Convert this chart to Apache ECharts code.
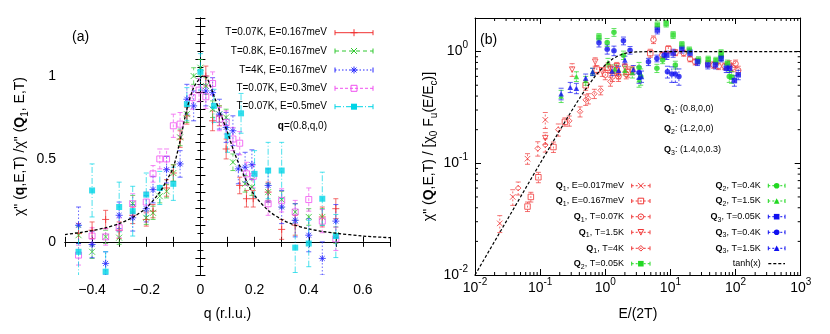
<!DOCTYPE html>
<html>
<head>
<meta charset="utf-8">
<script src="https://cdn.jsdelivr.net/npm/echarts@6/dist/echarts.min.js"></script>
<style>
html, body { margin: 0; padding: 0; background: #fff; }
#chart { width: 830px; height: 334px; }
</style>
</head>
<body>
<div id="chart"></div>
<script>
// ---- panel (a): [q, chi''/chi''(Q1), error] ----
var aRed = [[-0.45,0.05,0.06],[-0.4,0.07,0.05],[-0.35,0.135,0.055],[-0.3,0.07,0.05],[-0.25,0.16,0.05],[-0.2,0.135,0.04],[-0.175,0.185,0.04],[-0.125,0.325,0.05],[-0.1,0.415,0.05],[-0.075,0.62,0.05],[-0.05,0.76,0.05],[0.02,1.0,0.06],[0.045,0.73,0.06],[0.07,0.76,0.06],[0.095,0.56,0.06],[0.145,0.34,0.05],[0.17,0.26,0.05],[0.195,0.26,0.05],[0.25,0.3,0.06],[0.3,0.075,0.06],[0.35,0.1,0.06],[0.45,0.15,0.06],[0.5,0.2,0.06]];
var aGreen = [[-0.45,0.04,0.05],[-0.4,-0.06,0.04],[-0.35,0.03,0.04],[-0.3,0.025,0.04],[-0.25,0.23,0.05],[-0.2,0.145,0.04],[-0.175,0.175,0.04],[-0.15,0.275,0.04],[-0.125,0.305,0.04],[-0.1,0.415,0.05],[-0.075,0.63,0.05],[-0.05,0.77,0.05],[-0.025,1.0,0.05],[0,1.05,0.05],[0.02,0.94,0.05],[0.045,0.8,0.05],[0.07,0.77,0.05],[0.095,0.75,0.05],[0.12,0.48,0.05],[0.165,0.35,0.05],[0.19,0.33,0.05],[0.25,0.3,0.05],[0.3,0.255,0.05],[0.35,0.18,0.05],[0.4,0.15,0.05],[0.45,0.15,0.05],[0.5,0.04,0.05]];
var aBlue = [[-0.45,0.1,0.11],[-0.4,-0.016,0.08],[-0.35,-0.13,0.07],[-0.3,0.16,0.08],[-0.25,0.145,0.08],[-0.2,0.2,0.08],[-0.175,0.315,0.08],[-0.125,0.435,0.08],[-0.075,0.47,0.08],[-0.05,0.86,0.09],[-0.025,0.82,0.09],[0.02,0.91,0.09],[0.045,0.9,0.09],[0.07,0.77,0.09],[0.095,0.69,0.09],[0.12,0.67,0.09],[0.14,0.44,0.09],[0.165,0.45,0.09],[0.19,0.465,0.09],[0.25,0.34,0.1],[0.3,0.21,0.1],[0.35,0.13,0.1],[0.4,0.04,0.1],[0.45,-0.1,0.1],[0.5,0.125,0.1]];
var aMagenta = [[-0.45,-0.08,0.06],[-0.4,0.035,0.05],[-0.35,0.03,0.05],[-0.3,0.085,0.06],[-0.25,0.23,0.06],[-0.2,0.24,0.06],[-0.175,0.41,0.05],[-0.15,0.5,0.06],[-0.125,0.5,0.06],[-0.1,0.7,0.07],[-0.075,0.71,0.07],[-0.03,0.87,0.07],[-0.005,0.915,0.07],[0.02,0.875,0.07],[0.045,0.955,0.07],[0.07,0.74,0.07],[0.095,0.72,0.07],[0.12,0.62,0.07],[0.145,0.595,0.07],[0.17,0.41,0.07],[0.195,0.395,0.07],[0.25,0.23,0.07],[0.3,0.25,0.07],[0.35,0.18,0.07],[0.4,0.255,0.07],[0.45,0.125,0.07],[0.5,0.018,0.07]];
var aCyan = [[-0.45,-0.06,0.16],[-0.4,0.31,0.16],[-0.35,-0.18,0.12],[-0.3,0.21,0.15],[-0.25,0.185,0.15],[-0.2,0.285,0.13],[-0.15,0.325,0.1],[-0.1,0.35,0.1],[-0.05,0.83,0.1],[0,1.025,0.11],[0.05,0.82,0.1],[0.1,0.64,0.1],[0.15,0.775,0.12],[0.2,0.41,0.14],[0.25,0.43,0.17],[0.3,0.43,0.17],[0.35,-0.035,0.15],[0.4,-0.01,0.14],[0.45,0.26,0.16],[0.5,0.035,0.13]];
var aFit = [[-0.5,0.044],[-0.45,0.055],[-0.4,0.068],[-0.35,0.085],[-0.3,0.11],[-0.25,0.148],[-0.2,0.205],[-0.15,0.3],[-0.125,0.37],[-0.1,0.45],[-0.075,0.61],[-0.05,0.8],[-0.025,0.93],[0,0.99],[0.012,1.0],[0.025,0.985],[0.05,0.88],[0.075,0.77],[0.1,0.66],[0.125,0.54],[0.15,0.44],[0.175,0.35],[0.2,0.28],[0.25,0.19],[0.3,0.135],[0.35,0.1],[0.4,0.078],[0.45,0.063],[0.5,0.052],[0.6,0.035],[0.7,0.025]];
var aXLabels = [-0.4, -0.2, 0, 0.2, 0.4, 0.6];
var aYLabels = [0, 0.5, 1];

// ---- panel (b): [E/(2T), normalised chi'', error] ----
var q1E017 = [[0.024,0.029,0.005],[0.038,0.05,0.008],[0.064,0.11,0.012],[0.12,0.245,0.04]];
var q1E167 = [[0.064,0.041,0.004],[0.072,0.05,0.005],[0.094,0.075,0.008],[0.16,0.14,0.015],[0.24,0.235,0.02],[0.5,0.5,0.05],[0.74,0.69,0.06],[1.1,0.72,0.07],[1.5,0.68,0.07],[2.2,0.66,0.07],[4.9,0.97,0.08],[9.3,1.05,0.08]];
var q1T007 = [[1.0,0.62,0.06],[1.3,0.6,0.06],[1.6,0.6,0.06],[2.1,0.63,0.06],[2.6,0.68,0.06],[5.5,1.28,0.1],[7.5,0.93,0.06],[12,0.98,0.06],[16,0.97,0.06],[20,0.86,0.05],[24,0.81,0.05],[38,0.78,0.05],[46,0.76,0.05],[55,0.74,0.05],[68,0.74,0.05],[80,0.77,0.06],[90,0.72,0.06],[100,0.78,0.06],[110,0.68,0.06]];
var q1T15 = [[0.12,0.168,0.02],[0.31,0.69,0.09],[0.7,0.81,0.07],[0.9,0.66,0.06],[1.2,0.7,0.06],[1.5,0.74,0.06],[2.0,0.72,0.06]];
var q1T4 = [[0.046,0.06,0.008],[0.092,0.136,0.02],[0.12,0.146,0.02],[0.19,0.2,0.025],[0.28,0.24,0.025],[0.41,0.29,0.03],[0.5,0.37,0.04],[0.55,0.38,0.04],[0.68,0.42,0.04],[0.85,0.45,0.04],[1.2,0.54,0.05],[1.6,0.62,0.05]];
var q2T005 = [[0.8,1.35,0.1],[6.3,1.73,0.15],[8.6,1.78,0.12],[11,1.41,0.1],[15,1.15,0.08],[19.5,1.03,0.07],[27,0.84,0.06],[38,0.85,0.06],[50,0.83,0.06],[60,0.97,0.07],[75,0.78,0.06],[87,0.59,0.07]];
var q2T04 = [[1.07,1.21,0.1],[1.36,1.49,0.12],[1.9,0.93,0.08],[3.3,0.72,0.08],[3.5,0.6,0.1],[6.2,0.71,0.06],[7.6,0.84,0.06],[11.9,0.76,0.06],[60,0.9,0.07],[80,0.6,0.07]];
var q2T15 = [[0.21,0.4,0.05],[0.36,0.6,0.06],[0.5,0.55,0.05],[0.64,0.66,0.05],[1.1,0.8,0.07],[1.4,0.7,0.06],[2.0,0.68,0.06],[2.6,0.65,0.07],[3.3,0.56,0.08]];
var q3T005 = [[6.3,1.56,0.12],[8.8,0.93,0.08],[11,0.97,0.08],[15,1.05,0.08],[20,0.97,0.07],[26,0.81,0.06],[37.5,0.76,0.06],[49,0.76,0.06],[60,0.87,0.06],[72,0.71,0.06],[81,0.71,0.06],[96,0.55,0.06],[110,0.62,0.06]];
var q3T04 = [[0.8,1.2,0.1],[1.07,1.05,0.1],[1.36,1.02,0.1],[1.9,1.25,0.1],[2.4,1.03,0.08],[3.3,0.65,0.08],[4.6,0.81,0.06],[6.2,0.87,0.06],[8,0.93,0.06],[9,0.66,0.08],[10.5,0.63,0.1],[11.9,0.63,0.1],[13.5,0.6,0.1]];
var q3T15 = [[0.21,0.42,0.05],[0.29,0.48,0.05],[0.36,0.47,0.05],[0.5,0.58,0.05],[0.64,0.66,0.05],[1.27,0.67,0.06],[1.6,0.68,0.06],[2.0,0.84,0.07],[2.7,0.69,0.06],[3.3,0.59,0.07],[3.6,0.6,0.07]];
var tanhLine = [[0.01,0.01],[0.02,0.02],[0.05,0.05],[0.1,0.1],[0.2,0.197],[0.3,0.291],[0.4,0.38],[0.5,0.462],[0.7,0.604],[1,0.762],[1.3,0.862],[1.6,0.922],[2,0.964],[2.5,0.987],[3,0.995],[5,1],[1000,1]];

// log minor tick positions
var bMinorX = [0.02,0.03,0.04,0.05,0.06,0.07,0.08,0.09,0.2,0.3,0.4,0.5,0.6,0.7,0.8,0.9,2,3,4,5,6,7,8,9,20,30,40,50,60,70,80,90,200,300,400,500,600,700,800,900];
var bMinorY = [0.02,0.03,0.04,0.05,0.06,0.07,0.08,0.09,0.2,0.3,0.4,0.5,0.6,0.7,0.8,0.9];

var FONT = '"Liberation Sans", Arial, Helvetica, sans-serif';
var RED = '#f03838', GREEN = '#22d822', BLUE = '#1010f0';

var PLUS = 'path://M0,5L10,5M5,0L5,10';
var CROSS = 'path://M0,0L10,10M10,0L0,10';
var STAR = 'path://M0,5L10,5M5,0L5,10M1.5,1.5L8.5,8.5M8.5,1.5L1.5,8.5';

function symbolFor(kind, color) {
  var stroke = { color: 'none', borderColor: color, borderWidth: 1 };
  var fill = { color: color };
  switch (kind) {
    case 'plus': return { symbol: PLUS, itemStyle: stroke };
    case 'cross': return { symbol: CROSS, itemStyle: stroke };
    case 'star': return { symbol: STAR, itemStyle: stroke };
    case 'rectOpen': return { symbol: 'rect', itemStyle: stroke };
    case 'rectFill': return { symbol: 'rect', itemStyle: fill };
    case 'circleOpen': return { symbol: 'circle', itemStyle: stroke };
    case 'circleFill': return { symbol: 'circle', itemStyle: fill };
    case 'triDownOpen': return { symbol: 'triangle', symbolRotate: 180, itemStyle: stroke };
    case 'triFill': return { symbol: 'triangle', itemStyle: fill };
    case 'diamondOpen': return { symbol: 'diamond', itemStyle: stroke };
  }
}

// glyph for the hand-placed legend samples
function glyph(kind, cx, cy, r, color) {
  var s = { stroke: color, lineWidth: 1, fill: 'none' };
  var f = { fill: color };
  function ln(x1, y1, x2, y2) { return { type: 'line', shape: { x1: x1, y1: y1, x2: x2, y2: y2 }, style: s }; }
  switch (kind) {
    case 'plus': return [ln(cx - r, cy, cx + r, cy), ln(cx, cy - r, cx, cy + r)];
    case 'cross': return [ln(cx - r, cy - r, cx + r, cy + r), ln(cx + r, cy - r, cx - r, cy + r)];
    case 'star': return [ln(cx - r, cy, cx + r, cy), ln(cx, cy - r, cx, cy + r), ln(cx - r * 0.7, cy - r * 0.7, cx + r * 0.7, cy + r * 0.7), ln(cx + r * 0.7, cy - r * 0.7, cx - r * 0.7, cy + r * 0.7)];
    case 'rectOpen': return [{ type: 'rect', shape: { x: cx - r, y: cy - r, width: 2 * r, height: 2 * r }, style: s }];
    case 'rectFill': return [{ type: 'rect', shape: { x: cx - r, y: cy - r, width: 2 * r, height: 2 * r }, style: f }];
    case 'circleOpen': return [{ type: 'circle', shape: { cx: cx, cy: cy, r: r }, style: s }];
    case 'circleFill': return [{ type: 'circle', shape: { cx: cx, cy: cy, r: r }, style: f }];
    case 'triDownOpen': return [{ type: 'polygon', shape: { points: [[cx - r, cy - r], [cx + r, cy - r], [cx, cy + r]] }, style: s }];
    case 'triFill': return [{ type: 'polygon', shape: { points: [[cx - r, cy + r], [cx + r, cy + r], [cx, cy - r]] }, style: f }];
    case 'diamondOpen': return [{ type: 'polygon', shape: { points: [[cx, cy - r], [cx + r, cy], [cx, cy + r], [cx - r, cy]] }, style: s }];
  }
  return [];
}

function errorBars(color, dash, logY) {
  return function (params, api) {
    var x = api.value(0), y = api.value(1), e = api.value(2);
    var lo = y - e, hi = y + e;
    if (logY) lo = Math.max(lo, 0.0101);
    var p0 = api.coord([x, lo]), p1 = api.coord([x, hi]);
    var st = { stroke: color, lineWidth: 1, lineDash: dash, opacity: 0.7 };
    var cap = { stroke: color, lineWidth: 1, opacity: 0.7 };
    return {
      type: 'group',
      children: [
        { type: 'line', shape: { x1: p0[0], y1: p0[1], x2: p1[0], y2: p1[1] }, style: st },
        { type: 'line', shape: { x1: p0[0] - 2.5, y1: p0[1], x2: p0[0] + 2.5, y2: p0[1] }, style: cap },
        { type: 'line', shape: { x1: p1[0] - 2.5, y1: p1[1], x2: p1[0] + 2.5, y2: p1[1] }, style: cap }
      ]
    };
  };
}

var aDefs = [
  { label: 'T=0.07K, E=0.167meV', data: aRed, color: '#f03030', dash: null, kind: 'plus', size: 7 },
  { label: 'T=0.8K, E=0.167meV', data: aGreen, color: '#30c830', dash: [4, 3], kind: 'cross', size: 6 },
  { label: 'T=4K, E=0.167meV', data: aBlue, color: '#2828ff', dash: [1.5, 2], kind: 'star', size: 7 },
  { label: 'T=0.07K, E=0.3meV', data: aMagenta, color: '#f050f0', dash: [3, 2], kind: 'rectOpen', size: 6 },
  { label: 'T=0.07K, E=0.5meV', data: aCyan, color: '#00d4e6', dash: [6, 2, 1, 2], kind: 'rectFill', size: 6 }
];

var bDefs = [
  { q: '1', rest: ', E=0.017meV', data: q1E017, color: RED, kind: 'cross', col: 0 },
  { q: '1', rest: ', E=0.167meV', data: q1E167, color: RED, kind: 'rectOpen', col: 0 },
  { q: '1', rest: ', T=0.07K', data: q1T007, color: RED, kind: 'circleOpen', col: 0 },
  { q: '1', rest: ', T=1.5K', data: q1T15, color: RED, kind: 'triDownOpen', col: 0 },
  { q: '1', rest: ', T=4K', data: q1T4, color: RED, kind: 'diamondOpen', col: 0 },
  { q: '2', rest: ', T=0.05K', data: q2T005, color: GREEN, kind: 'rectFill', col: 0 },
  { q: '2', rest: ', T=0.4K', data: q2T04, color: GREEN, kind: 'circleFill', col: 1 },
  { q: '2', rest: ', T=1.5K', data: q2T15, color: GREEN, kind: 'triFill', col: 1 },
  { q: '3', rest: ', T=0.05K', data: q3T005, color: BLUE, kind: 'rectFill', col: 1 },
  { q: '3', rest: ', T=0.4K', data: q3T04, color: BLUE, kind: 'circleFill', col: 1 },
  { q: '3', rest: ', T=1.5K', data: q3T15, color: BLUE, kind: 'triFill', col: 1 }
];

function fmtA(v) {
  if (Math.abs(v) < 1e-9) return '0';
  var s = Math.abs(v).toFixed(1).replace(/\.0$/, '');
  return (v < 0 ? '\u2212' : '') + s;
}
function fmtPow(v) {
  var e = Math.round(Math.log10(v));
  if (Math.abs(v - Math.pow(10, e)) / v > 0.01) return '';
  return '{b|10}{s|' + (e < 0 ? '-' : '') + Math.abs(e) + '}';
}

var tickStyle = { color: '#000', width: 1 };
var lineStyle = { color: '#000', width: 1 };
var powRich = {
  b: { fontSize: 14, lineHeight: 22, fontFamily: FONT, color: '#000' },
  s: { fontSize: 10, verticalAlign: 'top', fontFamily: FONT, color: '#000' }
};
var nameRich = {
  t: { fontSize: 14, lineHeight: 20, fontFamily: FONT, color: '#000' },
  b: { fontSize: 14, lineHeight: 20, fontWeight: 'bold', fontFamily: FONT, color: '#000' },
  s: { fontSize: 10, verticalAlign: 'bottom', fontFamily: FONT, color: '#000' }
};
var nameRichG = {
  t: { fontSize: 14, lineHeight: 20, fontFamily: FONT, fill: '#000' },
  b: { fontSize: 14, lineHeight: 20, fontWeight: 'bold', fontFamily: FONT, fill: '#000' },
  s: { fontSize: 10, verticalAlign: 'bottom', fontFamily: FONT, fill: '#000' }
};

var series = [];
aDefs.forEach(function (d) {
  series.push({ type: 'custom', xAxisIndex: 0, yAxisIndex: 0, data: d.data, encode: { x: 0, y: 1 },
    renderItem: errorBars(d.color, d.dash, false), clip: true, silent: true, z: 2 });
  var sy = symbolFor(d.kind, d.color);
  series.push({ type: 'scatter', xAxisIndex: 0, yAxisIndex: 0, data: d.data, encode: { x: 0, y: 1 },
    symbol: sy.symbol, symbolSize: d.size, symbolRotate: sy.symbolRotate || 0, itemStyle: sy.itemStyle, silent: true, z: 3 });
});
series.push({ type: 'line', xAxisIndex: 0, yAxisIndex: 0, data: aFit, smooth: 0.3, showSymbol: false, symbol: 'none',
  lineStyle: { color: '#000', width: 1.3, type: [3, 2] }, silent: true, z: 5 });

// panel (a) y tick labels drawn by a custom series at the left edge of the axis
series.push({ type: 'custom', xAxisIndex: 0, yAxisIndex: 0, data: aYLabels.map(function (v) { return [-0.5, v]; }),
  encode: { x: 0, y: 1 }, clip: false, silent: true, z: 10,
  renderItem: function (params, api) {
    var p = api.coord([api.value(0), api.value(1)]);
    return { type: 'text', x: p[0] - 9, y: p[1],
      style: { text: fmtA(api.value(1)), textAlign: 'right', textVerticalAlign: 'middle', fontSize: 14, fontFamily: FONT, fill: '#000' } };
  } });

bDefs.forEach(function (d) {
  series.push({ type: 'custom', xAxisIndex: 2, yAxisIndex: 2, data: d.data, encode: { x: 0, y: 1 },
    renderItem: errorBars(d.color, [2, 2], true), clip: true, silent: true, z: 2 });
  var sy = symbolFor(d.kind, d.color);
  series.push({ type: 'scatter', xAxisIndex: 2, yAxisIndex: 2, data: d.data, encode: { x: 0, y: 1 },
    symbol: sy.symbol, symbolSize: 5.5, symbolRotate: sy.symbolRotate || 0, itemStyle: sy.itemStyle, silent: true, z: 3 });
});
series.push({ type: 'line', xAxisIndex: 2, yAxisIndex: 2, data: tanhLine, showSymbol: false, symbol: 'none',
  lineStyle: { color: '#000', width: 1.2, type: [3, 2] }, silent: true, z: 5 });

// log minor ticks (bottom/top and left/right)
series.push({ type: 'custom', xAxisIndex: 2, yAxisIndex: 2, data: bMinorX.map(function (v) { return [v, 1]; }),
  encode: { x: 0, y: 1 }, clip: false, silent: true, z: 6,
  renderItem: function (params, api) {
    var v = api.value(0);
    var b = api.coord([v, 0.01]), t = api.coord([v, 2]);
    var st = { stroke: '#000', lineWidth: 1 };
    return { type: 'group', children: [
      { type: 'line', shape: { x1: b[0], y1: b[1], x2: b[0], y2: b[1] - 3 }, style: st },
      { type: 'line', shape: { x1: t[0], y1: t[1], x2: t[0], y2: t[1] + 3 }, style: st }
    ] };
  } });
series.push({ type: 'custom', xAxisIndex: 2, yAxisIndex: 2, data: bMinorY.map(function (v) { return [1, v]; }),
  encode: { x: 0, y: 1 }, clip: false, silent: true, z: 6,
  renderItem: function (params, api) {
    var v = api.value(1);
    var l = api.coord([0.01, v]), r = api.coord([1000, v]);
    var st = { stroke: '#000', lineWidth: 1 };
    return { type: 'group', children: [
      { type: 'line', shape: { x1: l[0], y1: l[1], x2: l[0] + 3, y2: l[1] }, style: st },
      { type: 'line', shape: { x1: r[0], y1: r[1], x2: r[0] - 3, y2: r[1] }, style: st }
    ] };
  } });

// legends and annotations
var graphic = [];
var aRows = [32.7, 51, 70, 88.3, 106.7];
aDefs.forEach(function (d, i) {
  var y = aRows[i];
  graphic.push({ type: 'text', x: 327, y: y, style: { text: d.label, textAlign: 'right', textVerticalAlign: 'middle', fontSize: 10, fontFamily: FONT, fill: '#000' } });
  graphic.push({ type: 'line', shape: { x1: 335, y1: y, x2: 373, y2: y }, style: { stroke: d.color, lineWidth: 1, lineDash: d.dash } });
  graphic.push({ type: 'line', shape: { x1: 335, y1: y - 2.5, x2: 335, y2: y + 2.5 }, style: { stroke: d.color, lineWidth: 1 } });
  graphic.push({ type: 'line', shape: { x1: 373, y1: y - 2.5, x2: 373, y2: y + 2.5 }, style: { stroke: d.color, lineWidth: 1 } });
  glyph(d.kind, 354, y, d.size / 2, d.color).forEach(function (g) { graphic.push(g); });
});
graphic.push({ type: 'text', x: 327, y: 126, style: {
  text: '{b|q}{t|=(0.8,q,0)}', textAlign: 'right', textVerticalAlign: 'middle',
  rich: { t: { fontSize: 10, fontFamily: FONT, fill: '#000' }, b: { fontSize: 10, fontWeight: 'bold', fontFamily: FONT, fill: '#000' } } } });
graphic.push({ type: 'text', x: 72, y: 37, style: { text: '(a)', textVerticalAlign: 'middle', fontSize: 14, fontFamily: FONT, fill: '#000' } });
graphic.push({ type: 'text', x: 480, y: 40, style: { text: '(b)', textVerticalAlign: 'middle', fontSize: 14, fontFamily: FONT, fill: '#000' } });

var smallRich = {
  t: { fontSize: 9, lineHeight: 13, fontFamily: FONT, fill: '#000' },
  b: { fontSize: 9, lineHeight: 13, fontWeight: 'bold', fontFamily: FONT, fill: '#000' },
  s: { fontSize: 7, verticalAlign: 'bottom', fontFamily: FONT, fill: '#000' }
};
var qNotes = [['1', '(0.8,0,0)', 109], ['2', '(1.2,0,0)', 129], ['3', '(1.4,0,0.3)', 150]];
qNotes.forEach(function (n) {
  graphic.push({ type: 'text', x: 664, y: n[2], style: { text: '{b|Q}{s|' + n[0] + '}{t|: ' + n[1] + '}', textVerticalAlign: 'middle', rich: smallRich } });
});
var bRows = [185.7, 201, 216.7, 232.3, 248.3, 263.7];
var bCols = [{ tx: 624, x1: 631.7, x2: 650 }, { tx: 760.7, x1: 768.3, x2: 785 }];
var rowCount = [0, 0];
bDefs.forEach(function (d) {
  var c = bCols[d.col], y = bRows[rowCount[d.col]++];
  var cx = (c.x1 + c.x2) / 2;
  graphic.push({ type: 'text', x: c.tx, y: y, style: { text: '{b|Q}{s|' + d.q + '}{t|' + d.rest + '}', textAlign: 'right', textVerticalAlign: 'middle', rich: smallRich } });
  graphic.push({ type: 'line', shape: { x1: c.x1, y1: y, x2: c.x2, y2: y }, style: { stroke: d.color, lineWidth: 1, lineDash: [2, 2] } });
  graphic.push({ type: 'line', shape: { x1: c.x1, y1: y - 2, x2: c.x1, y2: y + 2 }, style: { stroke: d.color, lineWidth: 1 } });
  graphic.push({ type: 'line', shape: { x1: c.x2, y1: y - 2, x2: c.x2, y2: y + 2 }, style: { stroke: d.color, lineWidth: 1 } });
  glyph(d.kind, cx, y, 2.8, d.color).forEach(function (g) { graphic.push(g); });
});
graphic.push({ type: 'text', x: 760.7, y: bRows[5], style: { text: 'tanh(x)', textAlign: 'right', textVerticalAlign: 'middle', fontSize: 9, fontFamily: FONT, fill: '#000' } });
graphic.push({ type: 'line', shape: { x1: 768.3, y1: bRows[5], x2: 785, y2: bRows[5] }, style: { stroke: '#000', lineWidth: 1.2, lineDash: [3, 2] } });

var chart = echarts.init(document.getElementById('chart'));
chart.setOption({
  animation: false,
  backgroundColor: '#fff',
  grid: [
    { left: 65, right: 440, top: 18, bottom: 59 },
    { left: 475, right: 29.3, top: 18, bottom: 59 }
  ],
  xAxis: [
    { gridIndex: 0, type: 'value', min: -0.5, max: 0.7, interval: 0.1, position: 'bottom',
      axisLine: { lineStyle: lineStyle }, axisTick: { inside: true, length: 5, lineStyle: tickStyle },
      axisLabel: { customValues: aXLabels, formatter: fmtA, color: '#000', fontSize: 14, fontFamily: FONT, margin: 8 },
      splitLine: { show: false },
      name: 'q (r.l.u.)', nameLocation: 'middle', nameGap: 32, nameTextStyle: { fontSize: 14, fontFamily: FONT, color: '#000' } },
    { gridIndex: 0, type: 'value', min: -0.5, max: 0.7, interval: 0.1, position: 'top',
      axisLine: { lineStyle: lineStyle }, axisTick: { inside: true, length: 5, lineStyle: tickStyle },
      axisLabel: { show: false }, splitLine: { show: false } },
    { gridIndex: 1, type: 'log', logBase: 10, min: 0.01, max: 1000, position: 'bottom',
      axisLine: { lineStyle: lineStyle }, axisTick: { inside: true, length: 6, lineStyle: tickStyle },
      axisLabel: { formatter: fmtPow, rich: powRich, margin: 2 },
      splitLine: { show: false },
      name: 'E/(2T)', nameLocation: 'middle', nameGap: 32, nameTextStyle: { fontSize: 14, fontFamily: FONT, color: '#000' } },
    { gridIndex: 1, type: 'log', logBase: 10, min: 0.01, max: 1000, position: 'top',
      axisLine: { lineStyle: lineStyle }, axisTick: { inside: true, length: 6, lineStyle: tickStyle },
      axisLabel: { show: false }, splitLine: { show: false } }
  ],
  yAxis: [
    { gridIndex: 0, type: 'value', min: -0.2, max: 1.35, interval: 0.1, position: 'left',
      axisLine: { lineStyle: lineStyle }, axisTick: { inside: true, length: 5, lineStyle: tickStyle },
      minorTick: { show: true, splitNumber: 2, length: 3, lineStyle: tickStyle },
      axisLabel: { show: false },
      splitLine: { show: false }, minorSplitLine: { show: false },
      name: '{t|χ" (}{b|q}{t|,E,T) /χ" (}{b|Q}{s|1}{t|, E,T)}', nameLocation: 'middle', nameRotate: 90, nameGap: 35,
      nameMoveOverlap: false, nameTextStyle: { rich: nameRich } },
    { gridIndex: 0, type: 'value', min: -0.2, max: 1.35, interval: 0.1, position: 'right',
      axisLine: { lineStyle: lineStyle }, axisTick: { inside: true, length: 5, lineStyle: tickStyle },
      minorTick: { show: true, splitNumber: 2, length: 3, lineStyle: tickStyle },
      axisLabel: { show: false }, splitLine: { show: false } },
    { gridIndex: 1, type: 'log', logBase: 10, min: 0.01, max: 2, position: 'left',
      axisLine: { lineStyle: lineStyle }, axisTick: { inside: true, length: 6, lineStyle: tickStyle },
      axisLabel: { formatter: fmtPow, rich: powRich, margin: 7 },
      splitLine: { show: false },
      name: '{t|χ" (}{b|Q}{t|,E,T) / [χ}{s|0}{t| F}{s|u}{t|(E/E}{s|c}{t|)]}', nameLocation: 'middle', nameRotate: 90, nameGap: 27,
      nameTextStyle: { rich: nameRich } },
    { gridIndex: 1, type: 'log', logBase: 10, min: 0.01, max: 2, position: 'right',
      axisLine: { lineStyle: lineStyle }, axisTick: { inside: true, length: 6, lineStyle: tickStyle },
      axisLabel: { show: false }, splitLine: { show: false } }
  ],
  graphic: graphic,
  series: series
});
</script>
</body>
</html>
